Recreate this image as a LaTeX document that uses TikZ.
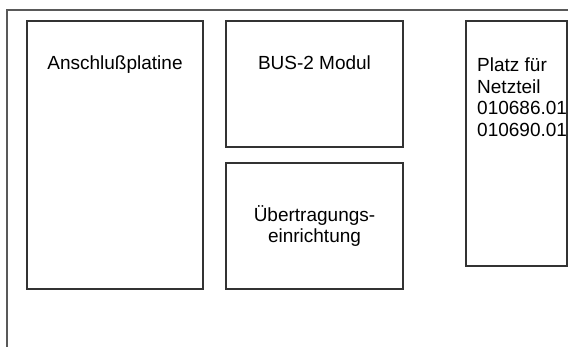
\documentclass[tikz,border=0pt]{standalone}
\usepackage{fontspec}
\setmainfont{Liberation Sans}
\usetikzlibrary{positioning}
\tikzset{
	kasten/.style={
		rectangle,
		draw=black!80,
		line width=1.3pt,
		outer sep=0pt,
		inner sep=0pt
	},
	beschriftung/.style={
		inner sep=0pt,
		font=\fontsize{19}{21.5}\selectfont
	}
}

\begin{document}
\begin{tikzpicture}[x=1pt,y=-1pt]
		\clip (0,0) rectangle (568,347);
		\fill[white] (0,0) rectangle (568,347);
		% Gehaeuse (nur oben und links sichtbar)
		\draw[draw=black!65, line width=1.6pt] (7,10) rectangle (620,400);
		
		\node[kasten, minimum width=176pt, minimum height=268pt, anchor=north west](Anschluss) at (27,21) {};
		\node[kasten, minimum width=177pt, minimum height=126pt, right=23pt of Anschluss.north east, anchor=north west](Bus) {};
		\node[kasten, minimum width=177pt, minimum height=126pt, below=16pt of Bus](Uebertragung) {};
		\node[kasten, minimum width=101pt, minimum height=245pt, right=63pt of Bus.north east, anchor=north west](Netzteil) {};
		
		\node[beschriftung, anchor=base] (AnschlussText) at ([yshift=-49pt]Anschluss.north) {Anschlußplatine};
		\node[beschriftung, anchor=base] (BusText) at ([yshift=-49pt]Bus.north) {BUS-2 Modul};
		\node[beschriftung, align=center] (UebertragungText) at (Uebertragung.center) {Übertragungs-\\einrichtung};
		\node[beschriftung, align=left, anchor=north west] (NetzteilText) at ([xshift=11pt,yshift=-37pt]Netzteil.north west) {Platz für\\Netzteil\\010686.01\\010690.01};
	\end{tikzpicture}
\end{document}
